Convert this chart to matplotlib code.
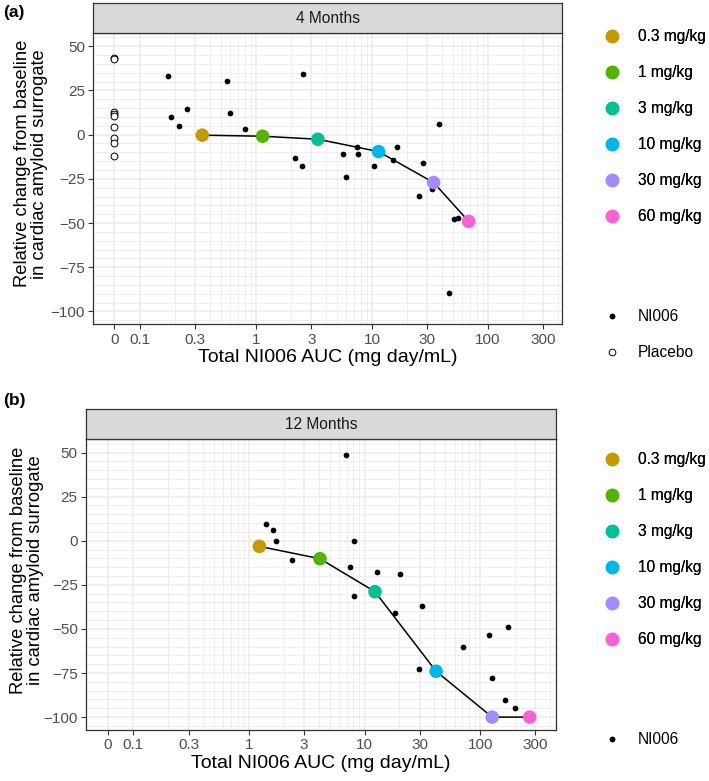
import numpy as np
import matplotlib
matplotlib.use("Agg")
import matplotlib.pyplot as plt
from matplotlib.lines import Line2D

plt.rcParams['font.family'] = ['Liberation Sans', 'DejaVu Sans']

# dose groups and ggplot-like colours
dose_labels = ['0.3 mg/kg', '1 mg/kg', '3 mg/kg', '10 mg/kg', '30 mg/kg', '60 mg/kg']
dose_colors = ['#C49A00', '#53B400', '#00C094', '#00B6EB', '#A58AFF', '#FB61D7']

# 4 months: per-dose means
m4_auc = [0.344, 1.14, 3.42, 11.4, 34.0, 68.2]
m4_chg = [-0.3, -0.9, -2.6, -9.6, -27.1, -49.1]
# 4 months: individual NI006 patients
p4_auc = [0.173, 0.186, 0.216, 0.254, 0.559, 0.601, 0.809, 2.52, 2.18, 2.48,
          5.59, 5.97, 7.43, 7.53, 10.47, 15.3, 16.4, 25.4, 27.7, 32.7,
          37.6, 45.8, 51.3, 54.8]
p4_chg = [33.1, 10.0, 4.9, 14.7, 30.1, 12.2, 3.0, 34.4, -13.0, -17.9,
          -10.9, -23.9, -6.9, -11.1, -17.8, -14.4, -6.9, -34.8, -16.0, -30.6,
          6.0, -89.7, -47.8, -47.2]
# 4 months: placebo (AUC = 0)
pl4_auc = [0, 0, 0, 0, 0, 0, 0, 0, 0]
pl4_chg = [43.5, 42.6, 12.8, 11.7, 10.6, 4.2, -1.7, -4.5, -11.9]

# 12 months: per-dose means
m12_auc = [1.23, 4.11, 12.3, 41.5, 127, 268]
m12_chg = [-3.2, -10.2, -28.9, -74.0, -100, -100]
# 12 months: individual NI006 patients
p12_auc = [1.39, 1.61, 1.70, 2.35, 6.86, 8.15, 7.53, 12.7, 8.05, 20.4,
           18.3, 31.4, 29.4, 71.0, 119, 173, 126.5, 163, 201]
p12_chg = [9.2, 6.0, -0.2, -10.8, 48.7, -0.2, -14.9, -17.7, -31.5, -18.7,
           -40.9, -37.0, -72.9, -60.4, -53.4, -49.1, -77.8, -90.2, -95.1]

x_ticks = [0, 0.1, 0.3, 1, 3, 10, 30, 100, 300]
x_ticklabels = ['0', '0.1', '0.3', '1', '3', '10', '30', '100', '300']
y_ticks = [-100, -75, -50, -25, 0, 25, 50]

ZERO_POS = 0.06  # where AUC = 0 sits on the log axis


def fwd(x):
    x = np.asarray(x, dtype=float)
    return np.log10(np.where(x > 0, x, ZERO_POS))


def inv(y):
    return 10 ** np.asarray(y, dtype=float)


W, H = 709, 781
fig = plt.figure(figsize=(W / 100, H / 100), dpi=100)


def fr(l, t, r, b):
    return [l / W, 1 - b / H, (r - l) / W, (b - t) / H]


def panel(box, strip_box, title, xlim, means_x, means_y, pts_x, pts_y,
          plc_x=None, plc_y=None):
    ax = fig.add_axes(fr(*box))
    ax.set_xscale('function', functions=(fwd, inv))

    minor_x = [k * 10.0 ** n for n in range(-1, 3) for k in range(2, 10)]
    minor_x = [v for v in minor_x if v < xlim[1] and v not in x_ticks]
    ax.set_xticks(x_ticks)
    ax.set_xticklabels(x_ticklabels)
    ax.set_xticks(minor_x, minor=True)
    ax.set_yticks(y_ticks)
    ax.set_yticks([v for v in range(-105, 56, 5) if v not in y_ticks], minor=True)

    ax.grid(which='major', color='#EBEBEB', lw=1.1)
    ax.grid(which='minor', color='#EBEBEB', lw=0.6)
    ax.set_axisbelow(True)
    ax.tick_params(which='major', length=3.5, width=0.8, color='#333333',
                   labelcolor='#4D4D4D', labelsize=11, pad=2.5)
    ax.tick_params(which='minor', length=0)
    for s in ax.spines.values():
        s.set_color('#333333')
        s.set_linewidth(0.9)

    ax.plot(means_x, means_y, color='black', lw=1.1, zorder=3)
    ax.scatter(pts_x, pts_y, s=17, color='black', zorder=4, lw=0)
    if plc_x is not None:
        ax.scatter(plc_x, plc_y, s=24, facecolor='white', edgecolor='black',
                   lw=0.7, zorder=4)
    ax.scatter(means_x, means_y, s=95, c=dose_colors, zorder=5, lw=0)

    ax.set_xlim(*xlim)
    ax.set_ylim(-107.3, 57.5)

    ax.set_xlabel('Total NI006 AUC (mg day/mL)', fontsize=14, labelpad=2)
    ax.set_ylabel('Relative change from baseline\nin cardiac amyloid surrogate',
                  fontsize=13.2, linespacing=0.98)

    sx = fig.add_axes(fr(*strip_box))
    sx.set_facecolor('#D9D9D9')
    sx.set_xticks([])
    sx.set_yticks([])
    for s in sx.spines.values():
        s.set_color('#333333')
        s.set_linewidth(0.9)
    sx.text(0.5, 0.5, title, ha='center', va='center', fontsize=11.2,
            color='#1A1A1A', transform=sx.transAxes)
    return ax


ax_a = panel((93.3, 33, 562, 324.3), (93.3, 3.3, 562, 33), '4 Months',
             (0.0396, 434.5), m4_auc, m4_chg, p4_auc, p4_chg, pl4_auc, pl4_chg)
# label centred over panel + strip, right edge at ~48 px
ax_a.yaxis.set_label_coords((48 - 93.3) / 468.7, 0.551)

ax_b = panel((86, 439.3, 556, 730), (86, 409.3, 556, 439.3), '12 Months',
             (0.0389, 452.6), m12_auc, m12_chg, p12_auc, p12_chg)
ax_b.yaxis.set_label_coords((44 - 86) / 470, 0.551)

fig.text(3 / W, 1 - 13 / H, '(a)', fontsize=12.5, fontweight='bold', va='center')
fig.text(3 / W, 1 - 400 / H, '(b)', fontsize=12.5, fontweight='bold', va='center')


def legends(top_y, group_y, with_placebo):
    dose_handles = [Line2D([], [], ls='', marker='o', markersize=9.8,
                           color=c, mew=0) for c in dose_colors]
    lg = fig.legend(dose_handles, dose_labels, loc='upper left',
                    bbox_to_anchor=(604 / W, 1 - top_y / H), frameon=False,
                    fontsize=11.2, labelspacing=1.35, handlelength=1.0,
                    handletextpad=1.2, borderpad=0, borderaxespad=0)
    g_handles = [Line2D([], [], ls='', marker='o', markersize=4.2,
                        color='black', mew=0)]
    g_labels = ['NI006']
    if with_placebo:
        g_handles.append(Line2D([], [], ls='', marker='o', markersize=4.8,
                                mfc='white', mec='black', mew=0.7))
        g_labels.append('Placebo')
    fig.legend(g_handles, g_labels, loc='upper left',
               bbox_to_anchor=(604 / W, 1 - group_y / H), frameon=False,
               fontsize=11.2, labelspacing=1.35, handlelength=1.0,
               handletextpad=1.2, borderpad=0, borderaxespad=0)
    fig.add_artist(lg)


legends(29, 309, True)
legends(452, 732, False)

fig.savefig('out.png', dpi=100)
